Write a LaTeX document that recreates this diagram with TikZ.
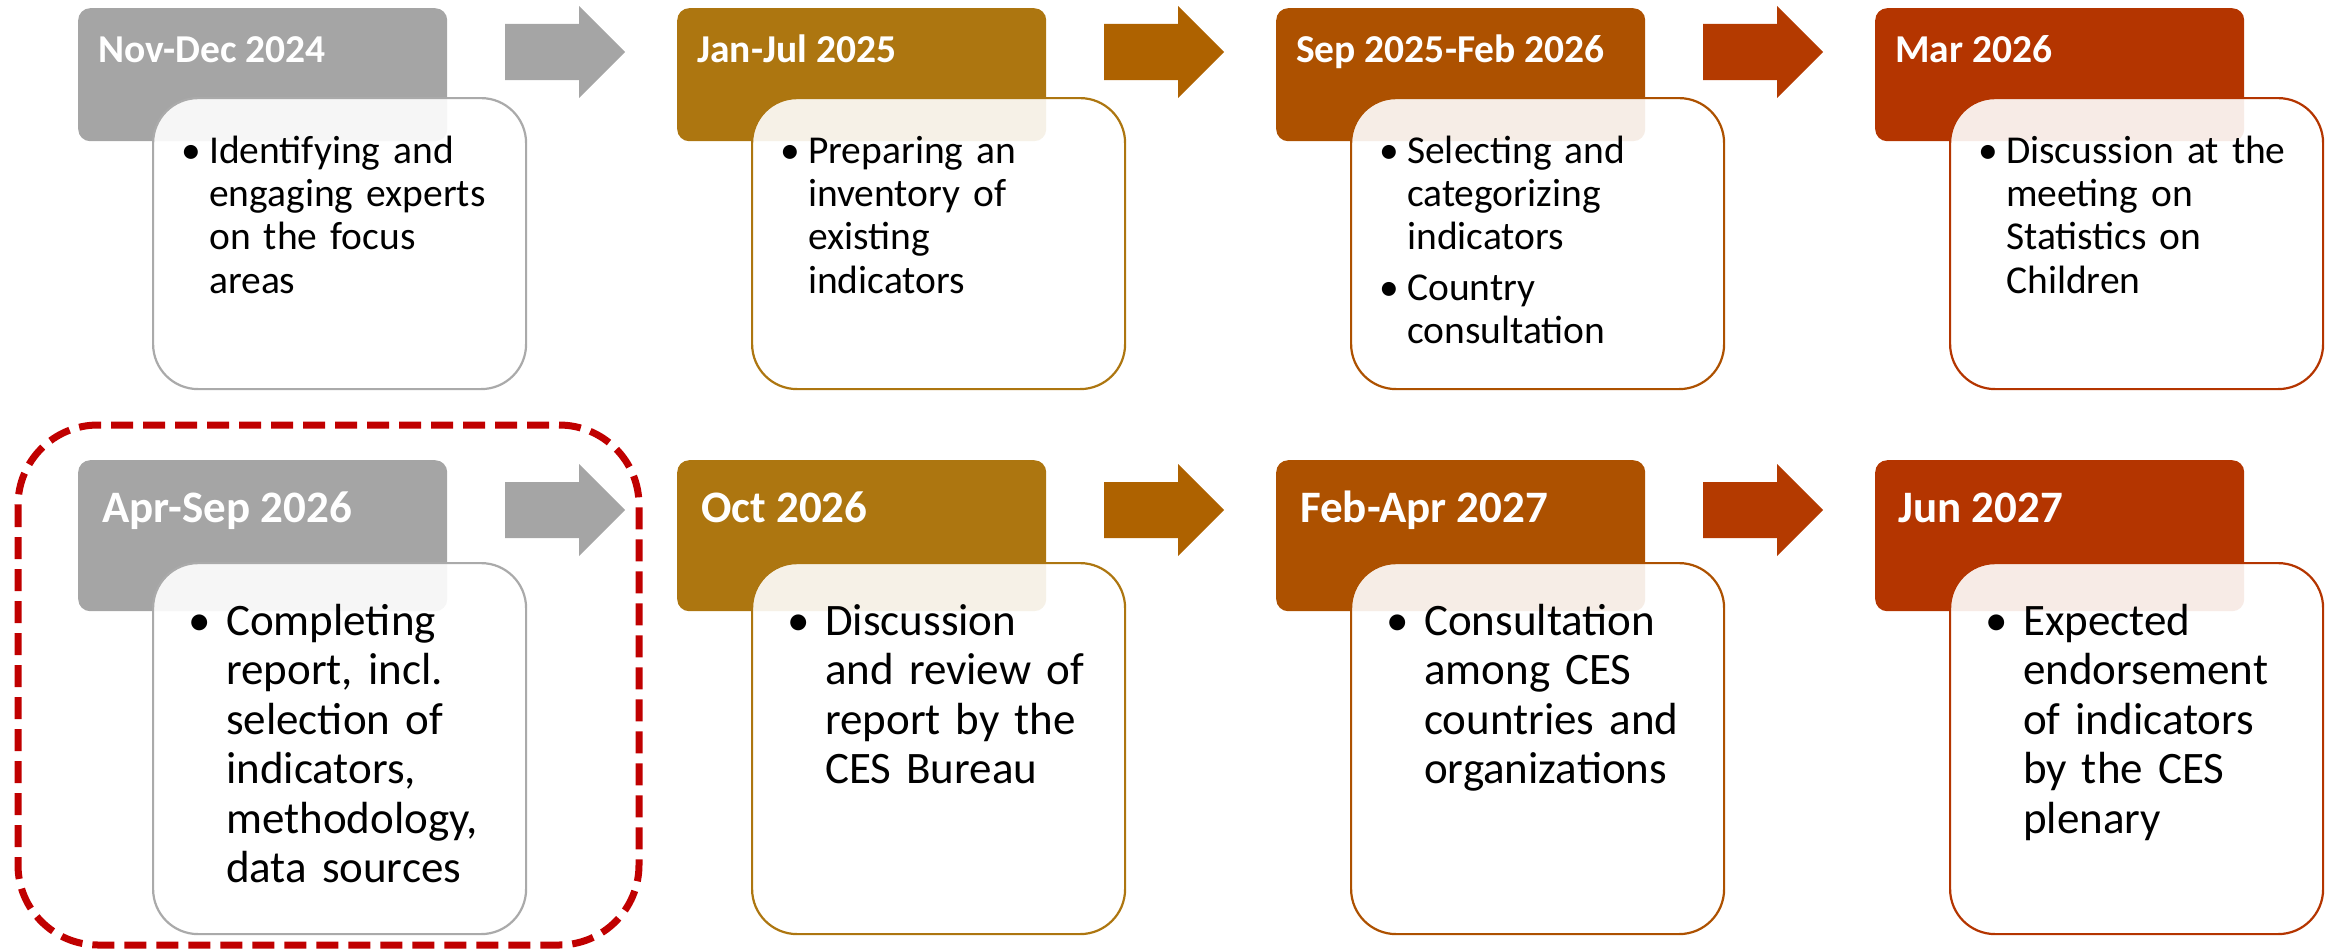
\documentclass[tikz,border=0pt]{standalone}
\usepackage{fontspec}
\setmainfont{Carlito}
\definecolor{cgray}{RGB}{165,165,165}
\definecolor{cgrayline}{RGB}{170,170,170}
\definecolor{cgold}{RGB}{173,118,16}
\definecolor{carr2}{RGB}{174,98,0}
\definecolor{corange}{RGB}{173,81,0}
\definecolor{carr3}{RGB}{180,58,0}
\definecolor{cred}{RGB}{180,53,0}
\definecolor{dashred}{RGB}{192,0,0}
\tikzset{
  hdr/.style={draw=none, rounded corners=12pt, inner sep=0pt, minimum width=369pt, anchor=north west},
  hdrA/.style={hdr, minimum height=133pt},
  hdrB/.style={hdr, minimum height=151pt},
  card/.style={line width=2.2pt, fill=white, fill opacity=0.9, rounded corners=45pt, inner sep=0pt, minimum width=373pt, anchor=north west},
  cardA/.style={card, minimum height=291pt},
  cardB/.style={card, minimum height=371pt},
  ttlA/.style={anchor=base west, inner sep=0pt, text=white, font=\fontsize{39.5}{47}\selectfont\bfseries},
  ttlB/.style={anchor=base west, inner sep=0pt, text=white, font=\fontsize{45}{54}\selectfont\bfseries},
  bodyA/.style={anchor=north west, inner sep=0pt, text width=320pt, align=left, font=\fontsize{39.5}{43.3}\selectfont},
  bodyB/.style={anchor=north west, inner sep=0pt, text width=310pt, align=left, font=\fontsize{45}{49.5}\selectfont},
  dashbox/.style={draw=dashred, line width=7pt, dash pattern=on 22pt off 10pt, rounded corners=80pt}
}
\newcommand{\bulA}{\leavevmode\llap{•\hspace{8pt}}}
\newcommand{\bulB}{\leavevmode\llap{•\hspace{15pt}}}
\begin{document}
\begin{tikzpicture}[x=1pt,y=-1pt]
\useasboundingbox (0,0) rectangle (2333,950);
% ---------- Row 1 headers ----------
\node[hdrA, fill=cgray]   (h1) at (78,8) {};
\node[hdrA, fill=cgold]   (h2) at (677,8) {};
\node[hdrA, fill=corange] (h3) at (1276,8) {};
\node[hdrA, fill=cred]    (h4) at (1875,8) {};
\node[ttlA] (t1) at (98,63) {Nov-Dec 2024};
\node[ttlA] (t2) at (697,63) {Jan-Jul 2025};
\node[ttlA] (t3) at (1296,63) {Sep 2025-Feb 2026};
\node[ttlA] (t4) at (1895,63) {Mar 2026};
% arrows row 1
\fill[cgray] (505,24) -- (579,24) -- (579,6) -- (625,52) -- (579,98) -- (579,80) -- (505,80) -- cycle;
\fill[carr2] (1104,24) -- (1178,24) -- (1178,6) -- (1224,52) -- (1178,98) -- (1178,80) -- (1104,80) -- cycle;
\fill[carr3] (1703,24) -- (1777,24) -- (1777,6) -- (1823,52) -- (1777,98) -- (1777,80) -- (1703,80) -- cycle;
% cards row 1
\node[cardA, draw=cgrayline] (c1) at (152,97) {};
\node[cardA, draw=cgold]     (c2) at (751,97) {};
\node[cardA, draw=corange]   (c3) at (1350,97) {};
\node[cardA, draw=cred]      (c4) at (1949,97) {};
\node[bodyA] (b1) at (209,132.7) {\noindent\strut\bulA Identifying and\\engaging experts\\on the focus\\areas};
\node[bodyA] (b2) at (808,132.7) {\noindent\strut\bulA Preparing an\\inventory of\\existing\\indicators};
\node[bodyA] (b3) at (1407,132.7) {\noindent\strut\bulA Selecting and\\categorizing\\indicators\\[7pt]\bulA Country\\consultation};
\node[bodyA] (b4) at (2006,132.7) {\noindent\strut\bulA Discussion at the\\meeting on\\Statistics on\\Children};
% ---------- Row 2 headers ----------
\node[hdrB, fill=cgray]   (h5) at (78,460) {};
\node[hdrB, fill=cgold]   (h6) at (677,460) {};
\node[hdrB, fill=corange] (h7) at (1276,460) {};
\node[hdrB, fill=cred]    (h8) at (1875,460) {};
\node[ttlB] (t5) at (102,522) {Apr-Sep 2026};
\node[ttlB] (t6) at (701,522) {Oct 2026};
\node[ttlB] (t7) at (1300,522) {Feb-Apr 2027};
\node[ttlB] (t8) at (1898,522) {Jun 2027};
% arrows row 2
\fill[cgray] (505,482) -- (579,482) -- (579,464) -- (625,510) -- (579,556) -- (579,538) -- (505,538) -- cycle;
\fill[carr2] (1104,482) -- (1178,482) -- (1178,464) -- (1224,510) -- (1178,556) -- (1178,538) -- (1104,538) -- cycle;
\fill[carr3] (1703,482) -- (1777,482) -- (1777,464) -- (1823,510) -- (1777,556) -- (1777,538) -- (1703,538) -- cycle;
% cards row 2
\node[cardB, draw=cgrayline] (c5) at (152,562) {};
\node[cardB, draw=cgold]     (c6) at (751,562) {};
\node[cardB, draw=corange]   (c7) at (1350,562) {};
\node[cardB, draw=cred]      (c8) at (1949,562) {};
\node[bodyB] (b5) at (226,600.35) {\noindent\strut\bulB Completing\\report, incl.\\selection of\\indicators,\\methodology,\\data sources};
\node[bodyB] (b6) at (825,600.35) {\noindent\strut\bulB Discussion\\and review of\\report by the\\CES Bureau};
\node[bodyB] (b7) at (1424,600.35) {\noindent\strut\bulB Consultation\\among CES\\countries and\\organizations};
\node[bodyB] (b8) at (2023,600.35) {\noindent\strut\bulB Expected\\endorsement\\of indicators\\by the CES\\plenary};
% highlight
\draw[dashbox] (18,425) rectangle (639,945);
\end{tikzpicture}
\end{document}
